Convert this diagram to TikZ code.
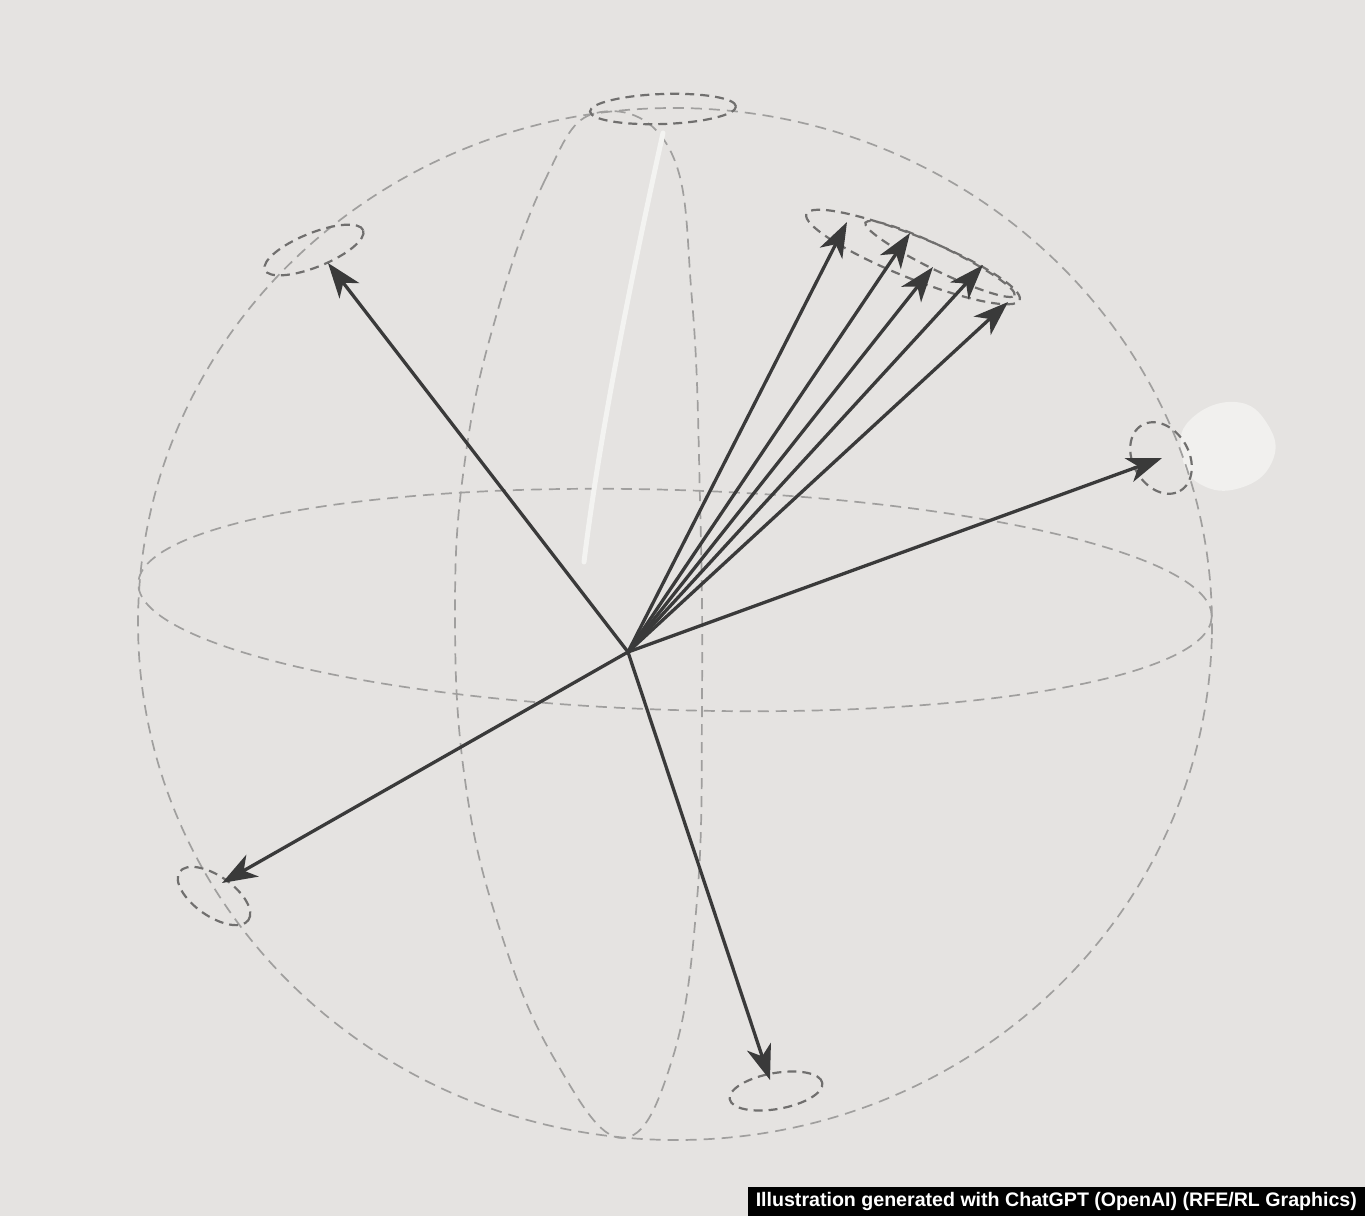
\documentclass[tikz,border=0pt]{standalone}
\usepackage{fontspec}
\usepackage{tikz}
\usetikzlibrary{arrows.meta,shapes.geometric}
\newfontfamily\capfont{Liberation Sans}
\definecolor{paper}{RGB}{229,227,225}
\definecolor{gridgray}{RGB}{160,159,158}
\definecolor{ringgray}{RGB}{112,111,110}
\definecolor{vecgray}{RGB}{58,58,58}
\tikzset{
  guide/.style={draw=gridgray, line width=1.7pt, dash pattern=on 11pt off 7pt},
  ring/.style={ellipse, draw=ringgray, line width=2.2pt, dash pattern=on 9pt off 6pt, inner sep=0pt, outer sep=0pt},
  vec/.style={-{Stealth[length=35pt,width=25pt,inset=10pt]}, draw=vecgray, line width=3.3pt},
  credit/.style={fill=black, text=white, inner sep=0pt, font=\capfont\bfseries\fontsize{19.6}{22}\selectfont},
}

\begin{document}
\begin{tikzpicture}[x=1pt, y=-1pt]
  \useasboundingbox (0,0) rectangle (1365,1216);
  \fill[paper] (0,0) rectangle (1365,1216);
  \fill[paper!55!white] plot[smooth cycle, tension=0.8] coordinates {(1190,420) (1235,402) (1268,425) (1272,462) (1240,488) (1200,484) (1182,455)};
  \draw[guide, rotate around={-1.5:(675,624)}] (675,624) ellipse [x radius=537, y radius=516];
  \draw[guide, rotate around={-1.8:(675,600)}] (675,600) ellipse [x radius=537, y radius=110];
  \draw[guide] plot[smooth cycle, tension=0.7] coordinates {(596,113) (545,180) (495,320) (465,460) (455,610) (465,780) (500,930) (555,1060) (622,1138) (672,1060) (697,900) (702,700) (700,500) (692,300) (670,150)};
  \draw[paper!45!white, line width=5pt, line cap=round] (663,133) .. controls (635,260) and (600,430) .. (584,562);
  \node[ring, minimum width=146, minimum height=30, rotate=2] (rTop) at (663,109) {};
  \node[ring, minimum width=106, minimum height=34, rotate=22] (rUL) at (314,250) {};
  \node[ring, minimum width=230, minimum height=42, rotate=-22] (rClusterA) at (913,257) {};
  \node[ring, minimum width=166, minimum height=24, rotate=-26] (rClusterB) at (940,259) {};
  \node[ring, minimum width=76, minimum height=56, rotate=-60] (rRight) at (1161,458) {};
  \node[ring, minimum width=84, minimum height=40, rotate=-35] (rLL) at (214,896) {};
  \node[ring, minimum width=94, minimum height=36, rotate=10] (rBot) at (776,1091) {};
  \coordinate (o) at (628,652);
  \coordinate (tUL) at (328,263);
  \coordinate (tA) at (847,222);
  \coordinate (tB) at (910,233);
  \coordinate (tC) at (933,267);
  \coordinate (tD) at (983,265);
  \coordinate (tE) at (1008,302);
  \coordinate (tRight) at (1162,458);
  \coordinate (tLL) at (222,883);
  \coordinate (tBot) at (770,1080);
  \foreach \t in {tUL,tA,tB,tC,tD,tE,tRight,tLL,tBot}
    \draw[vec] (o) -- (\t);
  \node[credit, minimum width=617, minimum height=29, anchor=south east] (credit) at (1365,1216)
    {Illustration generated with ChatGPT (OpenAI) (RFE/RL Graphics)};
\end{tikzpicture}
\end{document}
